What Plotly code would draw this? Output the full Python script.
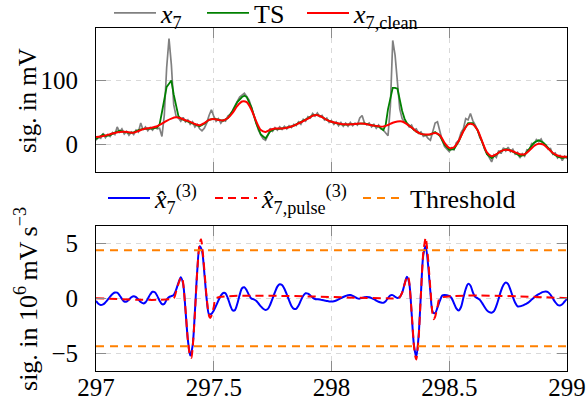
import numpy as np
import plotly.graph_objects as go
from plotly.subplots import make_subplots

# ---------------- data ----------------
T0 = 297.0
# raw signal x7 (sampled every 0.01 s from 297.00)
x7_raw = [6, 11, 9, 17, 10, 15, 12, 18, 15, 27,
          19, 24, 16, 20, 14, 19, 15, 22, 19, 33,
          22, 27, 21, 26, 22, 27, 24, 25, 12, 45,
          120, 166, 125, 62, 44, 41, 36, 42, 35, 38,
          31, 35, 27, 31, 24, 21, 25, 33, 45, 54,
          44, 36, 40, 33, 38, 36, 44, 47, 53, 61,
          67, 74, 77, 80, 75, 69, 58, 45, 33, 22,
          14, 8, 6, 14, 25, 20, 26, 22, 27, 23,
          28, 24, 29, 26, 31, 29, 35, 31, 39, 36,
          43, 41, 48, 44, 49, 43, 45, 38, 41, 34,
          37, 31, 35, 29, 34, 28, 33, 28, 34, 29,
          33, 30, 41, 45, 33, 30, 33, 27, 31, 25,
          30, 24, 22, 18, 13, 60, 163, 140, 95, 55,
          40, 35, 33, 27, 30, 22, 24, 17, 19, 12,
          14, 9, 6, 22, 33, 35, 18, 6, -4, -8,
          -12, -6, -9, 2, 6, 18, 24, 40, 38, 48,
          37, 30, 22, 10, 4, -8, -14, -20, -28, -17,
          -21, -10, -15, -6, -11, -5, -12, -8, -16, -13,
          -22, -15, -19, -9, -10, 1, 0, 7, 4, 8,
          0, -1, -8, -7, -16, -14, -22, -18, -26, -19,
          -23]
x7_raw_step = 0.01

# TS (template subtraction) output
ts_t = [297.00, 297.02, 297.03, 297.04, 297.06, 297.08, 297.10, 297.12, 297.14, 297.16,
        297.18, 297.20, 297.22, 297.24, 297.26, 297.27, 297.28, 297.29, 297.30, 297.31,
        297.32, 297.33, 297.34, 297.35, 297.36, 297.38, 297.40, 297.42, 297.44, 297.46,
        297.48, 297.50, 297.52, 297.54, 297.56, 297.58, 297.60, 297.62, 297.63, 297.64,
        297.66, 297.68, 297.70, 297.72, 297.74, 297.76, 297.78, 297.80, 297.82, 297.84,
        297.86, 297.88, 297.90, 297.92, 297.94, 297.96, 297.98, 298.00, 298.02, 298.04,
        298.06, 298.08, 298.10, 298.12, 298.14, 298.16, 298.18, 298.20, 298.22, 298.23,
        298.24, 298.25, 298.26, 298.27, 298.28, 298.29, 298.30, 298.31, 298.32, 298.34,
        298.36, 298.38, 298.40, 298.42, 298.44, 298.46, 298.48, 298.50, 298.52, 298.54,
        298.56, 298.58, 298.60, 298.62, 298.64, 298.66, 298.68, 298.70, 298.72, 298.74,
        298.76, 298.78, 298.80, 298.82, 298.84, 298.86, 298.88, 298.90, 298.92, 298.94,
        298.96, 298.98, 299.00]
ts_v = [8, 12, 15, 12.5, 14, 18, 21, 19, 17.5, 18.5,
        22, 24, 24, 24.5, 26, 31, 50, 72, 90, 95,
        100, 78, 58, 44, 40, 37, 34, 30.5, 28, 32,
        38, 40, 38, 36.5, 41, 52, 66, 74, 76, 74,
        58, 33, 15, 9, 20, 24, 24, 25, 26.5, 29,
        32.5, 36, 40.5, 45, 46, 42.5, 38, 35, 33, 31,
        30.5, 31, 31.5, 32.5, 32.5, 30.5, 29, 27.5, 22, 30,
        55, 75, 88.5, 88.5, 87, 70, 52, 40, 33, 26,
        19.5, 16, 14.5, 15, 19, 13, -1, -9, -8, 4,
        21, 33, 33, 22, 2, -16, -22, -17, -11, -8,
        -10, -14, -19, -17, -8, 2, 6, 2, -6, -15,
        -20, -22, -20]

# cleaned signal (every 0.02 s from 297.00)
x7_clean = [11, 12, 13.5, 15.5, 17.5, 19, 19.5, 18.5, 18, 20.5,
            23.5, 25, 26, 28, 32, 36.5, 40, 42, 40.5, 37.5,
            35, 31.5, 29.5, 33, 38, 39.5, 38, 37, 41, 49,
            60, 67, 66, 54, 36, 22, 19, 22.5, 24.5, 24.5,
            25, 26.5, 29, 32.5, 36, 40, 44.5, 45.5, 42.5, 38,
            35, 33, 31.5, 31, 31, 31.5, 32.5, 32, 30.5, 29,
            28, 27.5, 30, 33.5, 35.5, 35.5, 31.5, 26, 20, 16,
            15, 15.5, 17.5, 14, 2, -6, -5, 5, 20, 31,
            31, 22, 4, -13, -19, -16, -11, -9, -10, -13,
            -16, -16, -10, -3, 0.5, -1, -7, -14, -18, -20,
            -20]
x7_clean_step = 0.02

# third derivative estimate (every 0.01 s from 297.00), 10^6 mV s^-3
d3 = [-0.25, -0.50, -0.62, -0.565, -0.38, -0.13, 0.15, 0.38, 0.51, 0.50,
      0.265, -0.06, -0.30, -0.305, -0.13, 0.08, 0.18, 0.095, -0.12, -0.35,
      -0.47, -0.38, -0.05, 0.33, 0.58, 0.54, 0.21, -0.23, -0.54, -0.52,
      -0.14, 0.10, 0.18, 0.30, 0.75, 1.4, 1.9, 1.3, -1.1, -3.75,
      -5.2, -4.35, -1.2, 2.5, 4.7, 4.3, 2.3, -0.1, -1.45, -1.42,
      -1.12, -0.68, -0.2, 0.23, 0.47, 0.44, -0.01, -0.65, -1.1, -1.08,
      -0.51, 0.3, 0.9, 0.99, 0.70, 0.27, -0.04, -0.1, -0.24, -0.48,
      -0.74, -0.96, -1.06, -0.97, -0.57, -0.01, 0.55, 1.05, 1.27, 1.19,
      0.85, 0.35, -0.2, -0.7, -0.96, -0.96, -0.67, -0.2, 0.22, 0.45,
      0.41, 0.25, 0.05, -0.08, -0.1, -0.125, -0.17, -0.21, -0.25, -0.29,
      -0.30, -0.28, -0.21, -0.11, 0.0, 0.11, 0.2, 0.27, 0.28, 0.21,
      0.09, -0.02, -0.04, 0.02, 0.08, 0.10, 0.08, 0.01, -0.09, -0.21,
      -0.32, -0.40, -0.42, -0.27, 0.01, 0.26, 0.28, 0.12, 0.02, 0.1,
      0.5, 1.25, 1.95, 1.37, -1.3, -4.25, -5.33, -3.4, 0.5, 3.95,
      4.7, 3.05, 0.55, -1.27, -1.36, -0.84, -0.24, 0.23, 0.28, 0.26,
      0.2, 0.0, -0.46, -0.92, -1.12, -0.8, 0.03, 0.83, 1.3, 1.15,
      0.55, 0.12, 0.0, -0.15, -0.45, -0.8, -1.1, -1.27, -1.32, -1.18,
      -0.7, -0.03, 0.68, 1.2, 1.42, 1.27, 0.75, 0.12, -0.42, -0.74,
      -0.74, -0.68, -0.58, -0.47, -0.32, -0.12, 0.06, 0.24, 0.37, 0.49,
      0.57, 0.6, 0.54, 0.31, -0.03, -0.36, -0.6, -0.66, -0.55, -0.3,
      -0.06]
d3_step = 0.01

# pulse part of the third derivative
pulse_t = [297.00, 297.33, 297.34, 297.35, 297.36, 297.365, 297.37, 297.38, 297.39, 297.40,
           297.405, 297.41, 297.42, 297.43, 297.44, 297.446, 297.45, 297.46, 297.47, 297.48,
           297.485, 297.49, 297.50, 297.51,
           298.28, 298.29, 298.30, 298.31, 298.32, 298.325, 298.33, 298.34, 298.35, 298.355,
           298.36, 298.37, 298.38, 298.39, 298.40, 298.41, 298.42, 298.43, 298.435, 298.44,
           298.45, 298.46, 299.00]
pulse_v = [0, 0, 0.6, 1.3, 1.85, 1.9, 1.4, -1.0, -3.8, -5.3,
           -5.4, -4.6, -1.4, 2.5, 5.0, 5.35, 4.9, 2.6, 0.0, -1.6,
           -1.8, -1.6, -0.8, 0,
           0, 0.1, 0.5, 1.25, 1.9, 2.0, 1.5, -1.2, -4.3, -5.2,
           -5.55, -3.6, 0.5, 4.2, 5.5, 3.6, 0.8, -1.6, -1.9, -1.7,
           -0.8, 0, 0]

threshold = 4.35
x_range = [297, 299]
x_ticks = [297, 297.5, 298, 298.5, 299]
x_ticktext = ["297", "297.5", "298", "298.5", "299"]
top_yticks = [0, 100]
bot_yticks = [-5, 0, 5]

# ---------------- figure ----------------
t_raw = np.round(T0 + np.arange(len(x7_raw)) * x7_raw_step, 4)
t_clean = np.round(T0 + np.arange(len(x7_clean)) * x7_clean_step, 4)
t_d3 = np.round(T0 + np.arange(len(d3)) * d3_step, 4)

FONT = "Liberation Serif"
FS = 25
LFS = 26

fig = make_subplots(rows=2, cols=1, shared_xaxes=False)

fig.add_trace(go.Scatter(x=t_raw, y=x7_raw, mode="lines", name="<i>x</i><sub>7</sub>",
                         line=dict(color="#808080", width=1.7), legend="legend"), row=1, col=1)
fig.add_trace(go.Scatter(x=ts_t, y=ts_v, mode="lines", name="TS",
                         line=dict(color="#008000", width=1.8), legend="legend2"), row=1, col=1)
fig.add_trace(go.Scatter(x=t_clean, y=x7_clean, mode="lines", name="<i>x</i><sub>7,clean</sub>",
                         line=dict(color="#ff0000", width=2, shape="spline", smoothing=0.8),
                         legend="legend3"), row=1, col=1)

fig.add_trace(go.Scatter(x=t_d3, y=d3, mode="lines",
                         name="<i>x\u0302</i><sub>7</sub><sup>(3)</sup>",
                         line=dict(color="#0000ff", width=2, shape="spline", smoothing=0.8),
                         legend="legend4"), row=2, col=1)
fig.add_trace(go.Scatter(x=pulse_t, y=pulse_v, mode="lines",
                         name="<i>x\u0302</i><sub>7,pulse</sub><sup>(3)</sup>",
                         line=dict(color="#ff0000", width=2, dash="8px,5px", shape="spline", smoothing=0.6),
                         legend="legend5"), row=2, col=1)
fig.add_trace(go.Scatter(x=[x_range[0], x_range[1], None, x_range[0], x_range[1]],
                         y=[threshold, threshold, None, -threshold, -threshold],
                         mode="lines", name="Threshold",
                         line=dict(color="#ff8000", width=2, dash="8px,6px"),
                         legend="legend6"), row=2, col=1)

axis_common = dict(showline=True, linecolor="black", linewidth=1, mirror="ticks",
                   ticks="inside", ticklen=10, tickcolor="#8c8c8c", tickwidth=1,
                   showgrid=True, gridcolor="#d9d9d9", griddash="5px,5px", gridwidth=1,
                   zeroline=False, tickfont=dict(family=FONT, size=FS, color="black"))

fig.update_xaxes(range=x_range, tickvals=x_ticks, ticktext=x_ticktext, **axis_common)
fig.update_xaxes(showticklabels=False, row=1, col=1)
fig.update_xaxes(ticklabelstandoff=-6, row=2, col=1)
fig.update_yaxes(**axis_common)
fig.update_yaxes(range=[-43.5, 182.6], tickvals=top_yticks, ticklabelstandoff=12, row=1, col=1)
fig.update_yaxes(range=[-6.6, 6.57], tickvals=bot_yticks, ticklabelstandoff=12, row=2, col=1)


def leg(px, py):
    return dict(orientation="h", x=(px - 7 - 96) / 471.0, xanchor="left",
                y=(371 - py) / 343.0, yanchor="middle", visible=True,
                bgcolor="rgba(0,0,0,0)", font=dict(family=FONT, size=LFS),
                itemwidth=42, tracegroupgap=0)


fig.update_layout(
    width=586, height=404, showlegend=True,
    margin=dict(l=96, r=19, t=28, b=33, autoexpand=False),
    plot_bgcolor="white", paper_bgcolor="white",
    font=dict(family=FONT, size=FS, color="black"),
    xaxis=dict(domain=[0, 1]), xaxis2=dict(domain=[0, 1]),
    yaxis=dict(domain=[0.581, 1.0]), yaxis2=dict(domain=[0.0, 0.4236]),
    legend=leg(116, 13), legend2=leg(209, 13), legend3=leg(309, 13),
    legend4=leg(110, 198), legend5=leg(217, 198), legend6=leg(365, 198),
    annotations=[
        dict(text="sig. in mV", xref="paper", yref="paper", x=-0.1465, y=0.79,
             textangle=-90, showarrow=False, xanchor="center", yanchor="middle",
             font=dict(family=FONT, size=FS)),
        dict(text="sig. in 10<sup>6</sup>\u2009mV\u2009s<sup>\u22123</sup>", xref="paper", yref="paper",
             x=-0.1465, y=0.21, textangle=-90, showarrow=False, xanchor="center",
             yanchor="middle", font=dict(family=FONT, size=FS + 1)),
    ],
)

fig.write_html("out.html", config={"displayModeBar": False},
               post_script="document.body.style.margin='0px';document.body.style.overflow='hidden';")
